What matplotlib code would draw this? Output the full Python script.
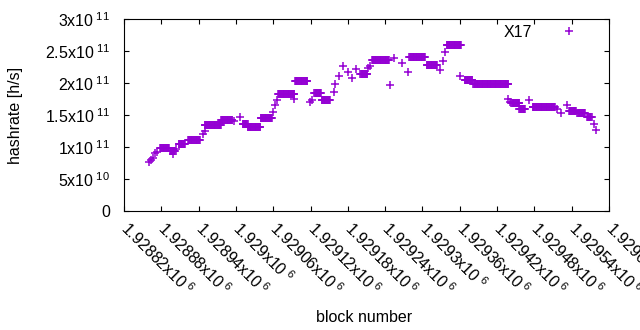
# hashrate per block, X17 - gnuplot style scatter
import numpy as np
import matplotlib
matplotlib.use("Agg")
import matplotlib.pyplot as plt

plt.rcParams['font.family'] = ['Liberation Sans', 'DejaVu Sans']
plt.rcParams['mathtext.fontset'] = 'custom'
plt.rcParams['mathtext.rm'] = 'Liberation Sans'
plt.rcParams['mathtext.it'] = 'Liberation Sans:italic'

# flat stretches: first block, last block, hashrate (x1e9 h/s)
run_first = [1928878, 1928894, 1928908, 1928923, 1928950, 1928976, 1929011, 1929019,
             1929040, 1929068, 1929095, 1929126, 1929138, 1929200, 1929219, 1929279,
             1929307, 1929339, 1929368, 1929382, 1929443, 1929456, 1929477, 1929536,
             1929549, 1929565]
run_last = [1928892, 1928902, 1928918, 1928942, 1928976, 1928994, 1929019, 1929039,
            1929058, 1929094, 1929115, 1929137, 1929151, 1929211, 1929246, 1929304,
            1929323, 1929362, 1929380, 1929438, 1929456, 1929465, 1929513, 1929547,
            1929561, 1929572]
run_rate = [97.7, 93.0, 104.0, 111.0, 134.4, 142.8, 136.0, 132.0,
            145.0, 182.5, 202.7, 184.0, 173.4, 214.0, 235.5, 240.0,
            228.0, 259.0, 204.7, 198.0, 168.0, 160.0, 162.0, 157.0,
            153.0, 146.5]

# single blocks
pt_block = [1928860, 1928863, 1928866, 1928870, 1928873, 1928898, 1928904, 1928947,
            1928950, 1928997, 1929007, 1929060, 1929063, 1929066, 1929094, 1929119,
            1929122, 1929157, 1929160, 1929166, 1929173, 1929180, 1929186, 1929193,
            1929213, 1929216, 1929248, 1929254, 1929267, 1929276, 1929328, 1929333,
            1929336, 1929360, 1929438, 1929440, 1929471, 1929516, 1929523, 1929532,
            1929576, 1929579]
pt_rate = [76.6, 79.7, 82.8, 90.6, 92.7, 89.0, 96.9, 120.0,
           125.0, 141.0, 146.4, 155.0, 165.6, 173.4, 175.0, 170.8,
           173.4, 186.4, 198.0, 211.4, 226.6, 216.7, 207.3, 221.4,
           223.0, 226.6, 196.9, 238.6, 230.8, 217.7, 220.3, 234.4,
           249.0, 211.0, 175.0, 170.8, 173.4, 159.4, 152.7, 165.6,
           135.5, 126.6]

xticks = [1928820 + 60 * i for i in range(14)]
yticks = [0, 5e10, 1e11, 1.5e11, 2e11, 2.5e11, 3e11]
ytick_labels = ['0', r'5x10$^{\ 10}$', r'1x10$^{\ 11}$', r'1.5x10$^{\ 11}$',
                r'2x10$^{\ 11}$', r'2.5x10$^{\ 11}$', r'3x10$^{\ 11}$']
xtick_labels = ['%gx10$^{\\ 6}$' % (v / 1e6) for v in xticks]

# every block of a flat stretch carries the stretch value
blocks = list(pt_block)
rates = list(pt_rate)
for a, b, r in zip(run_first, run_last, run_rate):
    for blk in range(a, b + 1):
        blocks.append(blk)
        rates.append(r)
blocks = np.array(blocks)
rates = np.array(rates) * 1e9

fig = plt.figure(figsize=(6.4, 3.3), dpi=100)
ax = fig.add_axes([124 / 640, 1 - 211 / 330, 485 / 640, 192 / 330])

ax.plot(blocks, rates, linestyle='none', marker='+', color='#9400d3',
        markersize=6, markeredgewidth=1.1, label='X17')

fs = 11.5
ax.set_xlim(1928820, 1929600)
ax.set_ylim(0, 3e11)
ax.set_xticks(xticks)
ax.set_xticklabels(xtick_labels, rotation=-45, ha='left', va='center',
                   rotation_mode='anchor', fontsize=fs)
ax.set_yticks(yticks)
ax.set_yticklabels(ytick_labels, fontsize=fs)
ax.tick_params(direction='in', length=3.5, width=0.8, top=True, right=True)
ax.tick_params(axis='x', pad=10)
ax.tick_params(axis='y', pad=10)
for s in ax.spines.values():
    s.set_linewidth(0.8)

ax.set_xlabel('block number', fontsize=fs)
ax.xaxis.set_label_coords(0.495, -0.515)
ax.set_ylabel('hashrate [h/s]', fontsize=fs)
ax.yaxis.set_label_coords(-0.208, 0.5)

ax.legend(loc='upper right', markerfirst=False, frameon=False, fontsize=fs,
          handlelength=1.5, handletextpad=1.6, bbox_to_anchor=(0.972, 1.045))

fig.savefig('out.png', dpi=100)
